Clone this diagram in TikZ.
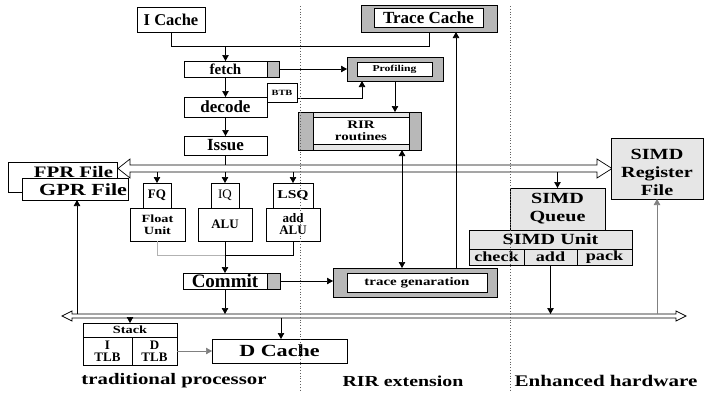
\documentclass[tikz,border=0pt]{standalone}
\usepackage{fontspec}
\setmainfont{Liberation Serif}
\newfontfamily\wfam[FakeStretch=1.3]{Liberation Serif}
\usetikzlibrary{arrows.meta}
\newcommand\fz[2]{\fontsize{#1}{#2}\selectfont\bfseries}
\newcommand\wz[2]{\wfam\fontsize{#1}{#2}\selectfont\bfseries}
\definecolor{tabgray}{HTML}{BDBDBD}
\definecolor{outgray}{HTML}{B8B8B8}
\definecolor{ltgray}{HTML}{E6E6E6}
\definecolor{dotgray}{HTML}{606060}
\tikzset{
  x=1pt, y=-1pt,
  bx/.style={draw, line width=0.7pt, inner sep=0pt, outer sep=0pt, anchor=north west, align=center},
  tx/.style={inner sep=0pt, outer sep=0pt, align=center},
  gfill/.style={fill=outgray},
  tfill/.style={fill=tabgray},
  lfill/.style={fill=ltgray},
  arr/.style={-{Triangle[length=6pt,width=6.5pt]}, line width=0.7pt},
  barr/.style={{Triangle[length=6pt,width=6.5pt]}-{Triangle[length=6pt,width=6.5pt]}, line width=0.7pt},
  ln/.style={line width=0.7pt},
  sep/.style={dotgray, line width=0.8pt, dotted},
}
\begin{document}
\begin{tikzpicture}
\useasboundingbox[fill=white] (0,0) rectangle (704,392);

% level coordinates
\coordinate (TBu) at (0,165);
\coordinate (TBl) at (0,172);
\coordinate (BBu) at (0,314);
\coordinate (BBl) at (0,318);

% ---------- top column ----------
\node[bx, minimum width=68pt, minimum height=25pt, font=\fz{16.5}{18}] (icache) at (137,7) {I Cache};
\node[bx, gfill, minimum width=136pt, minimum height=27pt] (tcache) at (361,5) {};
\node[bx, fill=white, minimum width=109pt, minimum height=19pt, font=\fz{17}{18}] (tcachein) at (374,8) {Trace Cache};

\node[bx, fill=white, minimum width=83pt, minimum height=16pt, font=\fz{15}{16}] (fetch) at (184,61) {fetch};
\node[bx, tfill, minimum width=12pt, minimum height=16pt] (fetchtab) at (267,61) {};

\node[bx, gfill, minimum width=96pt, minimum height=24pt] (prof) at (347,57) {};
\node[bx, fill=white, minimum width=75pt, minimum height=14pt, font=\wz{9}{10}] (profin) at (357,62) {Profiling};

\node[bx, fill=white, minimum width=30pt, minimum height=19pt, font=\wz{8}{9}] (btb) at (267,83) {BTB};
\node[bx, fill=white, minimum width=83pt, minimum height=20pt, font=\fz{17}{18}] (decode) at (184,97) {decode};
\node[bx, fill=white, minimum width=83pt, minimum height=19pt, font=\fz{17}{18}] (issue) at (184,136) {Issue};

% RIR routines
\node[bx, gfill, minimum width=123pt, minimum height=38pt] (rir) at (298,112) {};
\node[bx, fill=white, minimum width=96pt, minimum height=38pt] (rirw) at (313,112) {};
\fill[ltgray] (rirw.north west) rectangle (409,117);
\fill[ltgray] (313,144) rectangle (rirw.south east);
\draw[ln] (rirw.north west) rectangle (rirw.south east);
\draw[ln] (313,117) -- (409,117);
\draw[ln] (313,144) -- (409,144);
\node[tx, font=\wz{11.5}{12}] (rirt) at (361,131) {RIR\\routines};

% connectors top
\coordinate (j1) at (429,46);
\coordinate (j2) at (225.5,46);
\draw[ln] (icache.south) |- (j1) -- (tcache.south);
\draw[arr] (j2) -- (fetch.north);
\draw[arr] (fetchtab.east) -- (fetchtab.east -| prof.west);
\draw[arr] ([yshift=-5.5pt]btb.east) -| ([xshift=-33pt]prof.south);
\draw[arr] (fetch.south) -- (decode.north);
\draw[arr] (decode.south) -- (issue.north);
\draw[arr] (prof.south) -- (prof.south |- rir.north);

% register files
\node[bx, minimum width=109pt, minimum height=30pt] (fpr) at (8,162) {};
\node[tx, anchor=east, font=\wz{16}{17}] (fprt) at (113,172.5) {FPR File};
\node[bx, fill=white, minimum width=106pt, minimum height=22pt] (gpr) at (22,178) {};
\node[tx, anchor=east, font=\wz{17}{18}] (gprt) at (127,190) {GPR File};

% top bus
\draw[ln, fill=white] (118,168.5) -- (130,159) -- (130,165) -- (597,165) -- (597,159) -- (612,168.5)
  -- (597,178) -- (597,172) -- (130,172) -- (130,178) -- cycle;
\draw[ln] (issue.south) -- (issue.south |- TBu);

% execution units
\node[bx, fill=white, minimum width=28pt, minimum height=25pt, font=\fz{13}{14}] (fq) at (143,183) {FQ};
\node[bx, fill=white, minimum width=28pt, minimum height=25pt, font=\fontsize{13}{14}\selectfont] (iq) at (211,183) {IQ};
\node[bx, fill=white, minimum width=40pt, minimum height=25pt, font=\wz{12}{13}] (lsq) at (273,183) {LSQ};
\node[bx, fill=white, minimum width=55pt, minimum height=33pt, font=\wz{11}{12}] (float) at (130,208) {Float\\Unit};
\node[bx, fill=white, line width=1pt, minimum width=54pt, minimum height=33pt, font=\fz{13}{14}] (alu) at (198,208) {ALU};
\node[bx, fill=white, minimum width=54pt, minimum height=33pt, font=\fz{13}{12}] (addalu) at (266,208) {add\\ALU};

\draw[arr] (fq.north |- TBl) -- (fq.north);
\draw[arr] (iq.north |- TBl) -- (iq.north);
\draw[arr] (lsq.north |- TBl) -- (lsq.north);

\coordinate (j3) at (225,255);
\draw[ln, gray!60] (float.south) |- (j3);
\draw[ln] (addalu.south) |- (j3);

\node[bx, fill=white, minimum width=84pt, minimum height=16pt, font=\fz{19}{20}] (commit) at (183,273) {Commit};
\node[bx, tfill, minimum width=13pt, minimum height=16pt] (committab) at (267,273) {};
\draw[arr] (alu.south) -- (alu.south |- commit.north);

% trace generation
\node[bx, gfill, minimum width=164pt, minimum height=29pt] (tgen) at (333,268) {};
\node[bx, fill=white, minimum width=140pt, minimum height=19pt, font=\wz{11.5}{12}] (tgenin) at (347,273) {trace genaration};
\draw[arr] (committab.east) -- (committab.east -| tgen.west);

% SIMD
\node[bx, lfill, minimum width=92pt, minimum height=61pt, font=\wz{15.5}{18}, text depth=0pt] (simdreg) at (611,138) {};
\node[tx, font=\wz{15.5}{18}] (simdregt) at (657,172) {SIMD\\Register\\File};
\node[bx, lfill, minimum width=95pt, minimum height=42pt, font=\wz{15.5}{18}] (simdq) at (510,188) {SIMD\\Queue};
\node[bx, lfill, minimum width=163pt, minimum height=19pt, font=\wz{15.5}{16}] (simdu) at (469,230) {SIMD Unit};
\node[bx, lfill, minimum width=55pt, minimum height=16pt, font=\wz{14}{15}] (check) at (469,249) {check};
\node[bx, lfill, minimum width=53pt, minimum height=16pt, font=\wz{14}{15}] (add) at (524,249) {add};
\node[bx, lfill, minimum width=55pt, minimum height=16pt, font=\wz{14}{15}] (pack) at (577,249) {pack};
\draw[arr] (simdq.north |- TBl) -- (simdq.north);

% bottom bus
\draw[ln, fill=white] (62,316) -- (72,311) -- (72,314) -- (676,314) -- (676,311) -- (686,316)
  -- (676,321) -- (676,318) -- (72,318) -- (72,321) -- cycle;
\draw[arr] (commit.south) -- (commit.south |- BBu);
\draw[arr] (add.south) -- (add.south |- BBu);
\draw[arr, gray] (simdreg.south |- BBu) -- (simdreg.south);
\coordinate (g1) at (77,314);
\draw[arr] (g1) -- (g1 |- gpr.south);

% memory
\node[bx, fill=white, minimum width=94pt, minimum height=14pt, font=\wz{11}{12}] (stack) at (83,323) {Stack};
\node[bx, fill=white, minimum width=49pt, minimum height=28pt, font=\fz{13}{12}] (itlb) at (83,337) {I\\TLB};
\node[bx, fill=white, minimum width=45pt, minimum height=28pt, font=\fz{13}{12}] (dtlb) at (132,337) {D\\TLB};
\node[bx, fill=white, minimum width=135pt, minimum height=24pt, font=\wz{17}{18}] (dcache) at (212,339) {D Cache};
\draw[arr] (stack.north |- BBl) -- (stack.north);
\draw[arr, gray] (dtlb.east) -- (dtlb.east -| dcache.west);
\coordinate (d1) at (281,318);
\draw[arr] (d1) -- (d1 |- dcache.north);

% vertical connectors through the top bus
\coordinate (c402) at (402,0);
\coordinate (c456) at (456,0);
\draw[barr] (c402 |- rir.south) -- (c402 |- tgen.north);
\draw[arr] (c456 |- tgen.north) -- (c456 |- tcache.south);

% region labels
\node[tx, font=\wz{16}{17}] (lab1) at (174,381) {traditional processor};
\node[tx, font=\wz{15.3}{16}] (lab2) at (403,381) {RIR extension};
\node[tx, font=\wz{16.2}{17}] (lab3) at (606,381) {Enhanced hardware};

% separators
\coordinate (s1t) at (300,6);
\coordinate (s1b) at (300,392);
\coordinate (s2t) at (510,6);
\coordinate (s2b) at (510,392);
\draw[sep] (s1t) -- (s1b);
\draw[sep] (s2t) -- (s2b);
\end{tikzpicture}
\end{document}
